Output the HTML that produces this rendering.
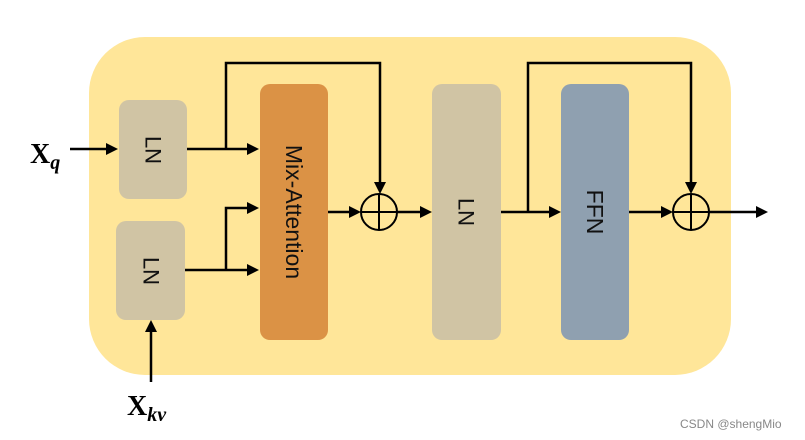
<!DOCTYPE html>
<html><head><meta charset="utf-8"><style>
html,body{margin:0;padding:0;background:#fff;width:805px;height:440px;overflow:hidden}
</style></head><body>
<svg width="805" height="440" viewBox="0 0 805 440" xmlns="http://www.w3.org/2000/svg">
<defs>
<marker id="a" viewBox="0 0 10 10" refX="10" refY="5" markerWidth="5" markerHeight="5" markerUnits="userSpaceOnUse" orient="auto">
</marker>
</defs>
<rect x="89" y="37" width="642" height="338" rx="56" fill="#FFE699"/>
<rect x="119" y="100" width="68" height="99" rx="10" fill="#D0C4A4"/>
<rect x="116" y="221" width="69" height="99" rx="10" fill="#D0C4A4"/>
<rect x="260" y="84" width="68" height="256" rx="10" fill="#DB9245"/>
<rect x="432" y="84" width="69" height="256" rx="10" fill="#D0C4A4"/>
<rect x="561" y="84" width="68" height="256" rx="10" fill="#8FA0B0"/>
<g font-family="Liberation Sans, sans-serif" fill="#111" text-anchor="middle" dominant-baseline="central">
<text transform="translate(153,150) rotate(90)" font-size="22">LN</text>
<text transform="translate(151,271) rotate(90)" font-size="22">LN</text>
<text transform="translate(294,212) rotate(90)" font-size="23">Mix-Attention</text>
<text transform="translate(466,212) rotate(90)" font-size="22">LN</text>
<text transform="translate(595,212) rotate(90)" font-size="23">FFN</text>
</g>
<g stroke="#000" stroke-width="2.5" fill="none">
<line x1="70" y1="149" x2="108" y2="149"/>
<line x1="187" y1="149" x2="248" y2="149"/>
<polyline points="226,149 226,63 380,63 380,182"/>
<line x1="185" y1="270" x2="248" y2="270"/>
<polyline points="226,270 226,208 248,208"/>
<line x1="328" y1="212" x2="350" y2="212"/>
<line x1="397" y1="212" x2="421" y2="212"/>
<line x1="501" y1="212" x2="550" y2="212"/>
<polyline points="528,212 528,63 691,63 691,182"/>
<line x1="629" y1="212" x2="662" y2="212"/>
<line x1="709" y1="212" x2="757" y2="212"/>
<line x1="151" y1="382" x2="151" y2="332"/>
</g>
<g stroke="#000" stroke-width="2" fill="none">
<circle cx="379" cy="212" r="18"/>
<line x1="361" y1="212" x2="397" y2="212"/><line x1="379" y1="194" x2="379" y2="230"/>
<circle cx="691" cy="212" r="18"/>
<line x1="673" y1="212" x2="709" y2="212"/><line x1="691" y1="194" x2="691" y2="230"/>
</g>
<g fill="#000">
<polygon points="118,149 106,143 106,155"/>
<polygon points="259,149 247,143 247,155"/>
<polygon points="259,208 247,202 247,214"/>
<polygon points="259,270 247,264 247,276"/>
<polygon points="380,194 374,182 386,182"/>
<polygon points="361,212 349,206 349,218"/>
<polygon points="432,212 420,206 420,218"/>
<polygon points="561,212 549,206 549,218"/>
<polygon points="691,194 685,182 697,182"/>
<polygon points="673,212 661,206 661,218"/>
<polygon points="768,212 756,206 756,218"/>
<polygon points="151,320 145,332 157,332"/>
</g>
<g font-family="Liberation Serif, serif" font-weight="bold" fill="#000">
<text x="30" y="163" font-size="28">X<tspan font-style="italic" font-size="20" dy="6">q</tspan></text>
<text x="127" y="415" font-size="28">X<tspan font-style="italic" font-size="20" dy="6">kv</tspan></text>
</g>
<text x="680" y="428" font-family="Liberation Sans, sans-serif" font-size="12" fill="#888">CSDN @shengMio</text>
</svg>
</body></html>
